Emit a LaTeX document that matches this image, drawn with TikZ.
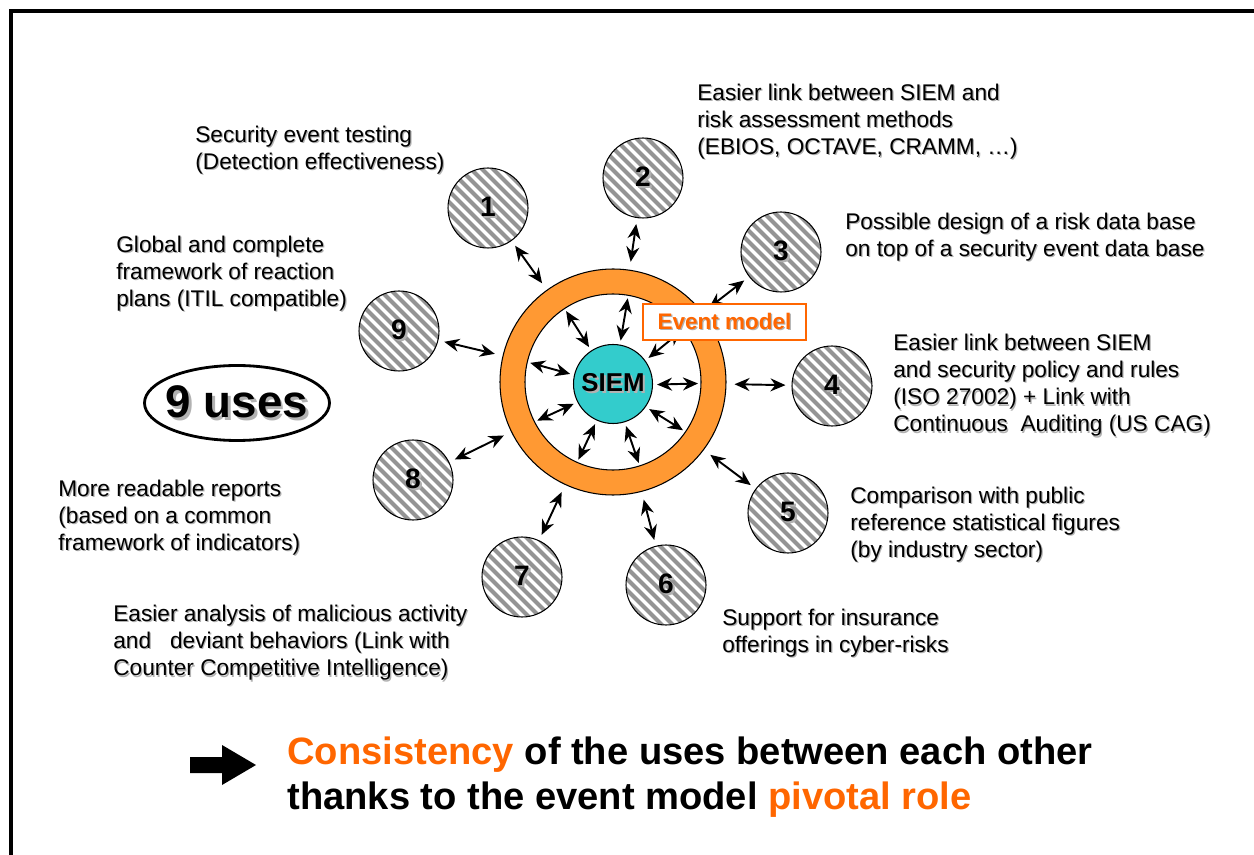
\documentclass[tikz,border=0pt]{standalone}
\usepackage{fontspec}
\setmainfont{Liberation Sans}
\usetikzlibrary{arrows.meta,calc,shapes.geometric}
\definecolor{ringorange}{RGB}{255,153,51}
\definecolor{siemcyan}{RGB}{51,204,204}
\definecolor{accent}{RGB}{255,102,0}
% text with a soft grey drop shadow
\newcommand{\shd}[2][0.7pt]{\leavevmode\rlap{\kern#1\raisebox{-#1}{\textcolor{black!30}{#2}}}#2}

\begin{document}
\begin{tikzpicture}[
    lbl/.style={font=\fontsize{12.9}{15.4}\selectfont, align=left, anchor=west, inner sep=0pt},
    usecirc/.style={circle, draw, line width=0.6pt, minimum size=1.6cm, inner sep=0pt, fill=white,
        font=\bfseries\fontsize{16}{16}\selectfont,
        path picture={\foreach \k in {-6,...,6}
            \draw[black!42, line width=0.08cm] ([xshift={\k*0.22cm-1cm}, yshift=1cm]path picture bounding box.center) -- ++(2,-2);}},
    link/.style={{Stealth[length=3mm,width=2.6mm]}-{Stealth[length=3mm,width=2.6mm]}, line width=1.1pt}
]
\useasboundingbox (0,0) rectangle (25.08,-17.1);
\draw[line width=1.8pt] (0.22,-17.1) -- (0.22,-0.22) -- (25.08,-0.22);

% Ring and core
\node[circle, draw, line width=0.6pt, fill=ringorange, minimum size=4.52cm] (ring) at (12.26,-7.64) {};
\node[circle, draw, line width=0.6pt, fill=white, minimum size=3.52cm] (hole) at (ring.center) {};
\node[circle, draw, line width=0.6pt, fill=siemcyan, minimum size=1.58cm, inner sep=0pt,
      font=\bfseries\fontsize{14.7}{15}\selectfont] (siem) at (12.26,-7.68) {\shd[1.2pt]{SIEM}};

% Uses
\foreach \n/\x/\y in {1/9.76/-4.16, 2/12.86/-3.56, 3/15.62/-5.04, 4/16.64/-7.72, 5/15.76/-10.26,
                      6/13.32/-11.7, 7/10.44/-11.54, 8/8.26/-9.6, 9/7.98/-6.62}
    \node[usecirc] (c\n) at (\x,\y) {\shd[1.3pt]{\n}};

% Links
\foreach \n in {1,...,9}
    \draw[link, shorten <=0.12cm, shorten >=0.16cm] (c\n) -- (ring);
\foreach \a in {123.5,80,36.7,167,359,207,325.4,246,287.6}
    \draw[link, shorten <=0.08cm] (siem.\a) -- ($(ring.center)+(\a:1.7)$);

\node[draw=accent, line width=1.4pt, fill=white, minimum width=3.26cm, minimum height=0.72cm,
      font=\bfseries\fontsize{12.8}{13}\selectfont, text=accent] (evt) at (14.49,-6.44) {\shd{Event model}};

\node[ellipse, draw, line width=1.6pt, inner xsep=-0.15cm, inner ysep=0pt, minimum width=3.7cm, minimum height=1.5cm,
      font=\bfseries\fontsize{26}{26}\selectfont] (uses) at (4.74,-8.06) {\shd[1.5pt]{9 uses}};

% Labels
\node[lbl] (t1) at (3.9,-3.01) {\shd{Security event testing}\\\shd{(Detection effectiveness)}};
\node[lbl] (t2) at (13.94,-2.44) {\shd{Easier link between SIEM and}\\\shd{risk assessment methods}\\\shd{(EBIOS, OCTAVE, CRAMM, …)}};
\node[lbl] (t3) at (16.9,-4.75) {\shd{Possible design of a risk data base}\\\shd{on top of a security event data base}};
\node[lbl] (t4) at (17.86,-7.72) {\shd{Easier link between SIEM}\\\shd{and security policy and rules}\\\shd{(ISO 27002) + Link with}\\\shd{Continuous\ \ Auditing (US CAG)}};
\node[lbl] (t5) at (17.0,-10.5) {\shd{Comparison with public}\\\shd{reference statistical figures}\\\shd{(by industry sector)}};
\node[lbl] (t6) at (14.44,-12.67) {\shd{Support for insurance}\\\shd{offerings in cyber-risks}};
\node[lbl] (t7) at (2.26,-12.87) {\shd{Easier analysis of malicious activity}\\\shd{and\ \ \ deviant behaviors (Link with}\\\shd{Counter Competitive Intelligence)}};
\node[lbl] (t8) at (1.16,-10.36) {\shd{More readable reports}\\\shd{(based on a common}\\\shd{framework of indicators)}};
\node[lbl] (t9) at (2.32,-5.48) {\shd{Global and complete}\\\shd{framework of reaction}\\\shd{plans (ITIL compatible)}};

% Conclusion
\fill (3.8,-15.14) -- (4.44,-15.14) -- (4.44,-14.9) -- (5.12,-15.3) -- (4.44,-15.7)
      -- (4.44,-15.46) -- (3.8,-15.46) -- cycle;
\node[anchor=west, inner sep=0pt, align=left, font=\bfseries\fontsize{21.7}{25.6}\selectfont] (concl) at (5.74,-15.55)
    {\textcolor{accent}{Consistency} of the uses between each other\\thanks to the event model \textcolor{accent}{pivotal role}};
\end{tikzpicture}
\end{document}
